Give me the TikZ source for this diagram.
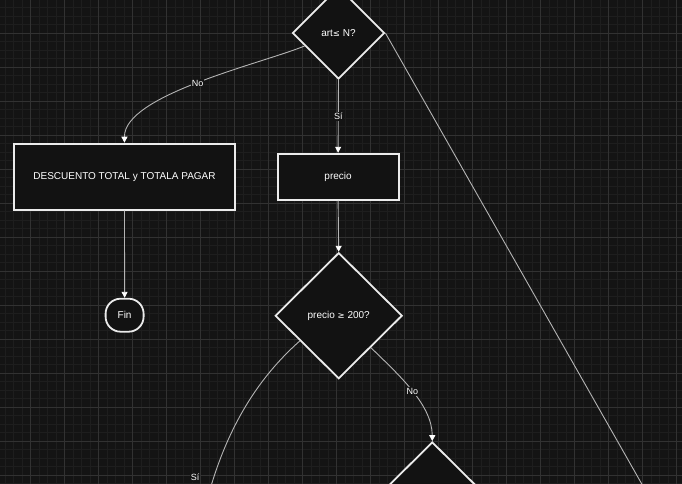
\documentclass[tikz,border=0pt]{standalone}
\usepackage{fontspec}
\setmainfont{Liberation Sans}
\newfontfamily\symfont{DejaVu Sans}
\usetikzlibrary{shapes.geometric,arrows.meta}
\definecolor{bg}{HTML}{141414}
\definecolor{minorline}{HTML}{1E1E1E}
\definecolor{majorline}{HTML}{323232}
\definecolor{nodefill}{HTML}{121212}
\definecolor{boxline}{HTML}{EBEBEB}
\definecolor{linegray}{HTML}{B4B4B4}
\begin{document}
\begin{tikzpicture}[x=1pt,y=1pt,
  flowbox/.style={draw=boxline, line width=1.8pt, fill=nodefill, text=white,
    font=\fontsize{10}{12}\selectfont, inner sep=0pt},
  decision/.style={diamond, draw=boxline, line width=1.8pt, fill=nodefill, text=white,
    inner sep=0pt, font=\fontsize{10}{12}\selectfont},
  conn/.style={draw=linegray, line width=0.9pt, -{Triangle[width=6pt,length=6pt,fill=white,color=white]}},
  lbl/.style={fill=bg, text=white, inner sep=1pt, font=\fontsize{9}{10}\selectfont},
  minorgrid/.style={draw=minorline, line width=0.8pt},
  majorgrid/.style={draw=majorline, line width=0.8pt}
]
\useasboundingbox (0,0) rectangle (682,-484);
\clip (0,0) rectangle (682,-484);
\fill[bg] (0,0) rectangle (682,-484);
% grid
\foreach \i in {0,...,81} \draw[minorgrid] ({-3.5+8.5*\i},0) -- ++(0,-484);
\foreach \i in {0,...,57} \draw[minorgrid] (0,{1-8.5*\i}) -- ++(682,0);
\foreach \i in {0,...,19} \draw[majorgrid] ({30.5+34*\i},0) -- ++(0,-484);
\foreach \i in {0,...,14} \draw[majorgrid] (0,{1-34*\i}) -- ++(682,0);

% nodes
\node[decision, minimum width=92pt, minimum height=92pt] (d1) at (338.5,-33) {art{\symfont\fontsize{8.5}{9}\selectfont ≤} N?};
\node[flowbox, minimum width=221pt, minimum height=66pt] (desc) at (124.5,-176.6) {DESCUENTO TOTAL y TOTALA PAGAR};
\node[flowbox, minimum width=121pt, minimum height=46pt] (precio) at (338.1,-176.7) {precio};
\node[flowbox, rounded corners=15pt, minimum width=38pt, minimum height=33pt] (fin) at (124.6,-315.2) {Fin};
\node[decision, minimum width=127pt, minimum height=126pt] (d2) at (338.7,-315.7) {precio {\symfont\fontsize{8.5}{9}\selectfont ≥} 200?};
\node[decision, minimum width=127pt, minimum height=126pt] (d3) at (432.3,-505) {};
\coordinate (offr) at (670.8,-535);
\coordinate (offl) at (195,-560);

% connectors
\draw[conn] (d1.south) -- node[lbl]{Sí} (precio.north);
\draw[conn] (d1.201) .. controls (260,-64) and (124,-95) .. node[lbl,pos=0.5]{No} (desc.north);
\draw[conn] (d1.east) -- (offr);
\draw[conn] (desc.south) -- (fin.north);
\draw[conn] (precio.south) -- (d2.north);
\draw[conn] (d2.south east) .. controls (400,-376) and (432,-405) .. node[lbl,pos=0.5]{No} (d3.north);
\draw[conn] (d2.213.6) .. controls (250,-385) and (212,-450) .. node[lbl,pos=0.72,xshift=-19pt]{Sí} (offl);
\end{tikzpicture}
\end{document}
